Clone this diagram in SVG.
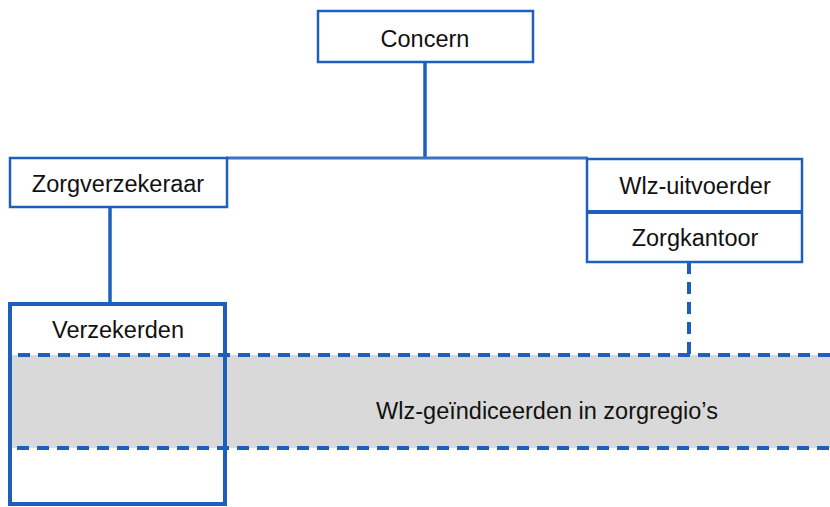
<svg xmlns="http://www.w3.org/2000/svg" width="830" height="507" viewBox="0 0 830 507">
<style>
.box{fill:#fff;stroke:#1c5fbd;stroke-width:2.5}
.t{font-family:"Liberation Sans",Arial,sans-serif;font-size:23.5px;fill:#111;text-anchor:middle}
.ln{stroke:#1c5fbd;stroke-width:3.5;fill:none}
.dash{stroke:#1c5fbd;stroke-width:4;fill:none;stroke-dasharray:12 8}
</style>
<rect width="830" height="507" fill="#fff"/>
<g id="band">
<rect x="10" y="355" width="830" height="93" fill="#d9d9d9"/>
<text class="t" x="547" y="419">Wlz-geïndiceerden in zorgregio’s</text>
</g>
<g id="connectors">
<line class="ln" x1="425" y1="62" x2="425" y2="158"/>
<line x1="226" y1="158" x2="588" y2="158" stroke="#3a72c4" stroke-width="3"/>
<line class="ln" x1="110" y1="207" x2="110" y2="302"/>
<line class="dash" x1="689" y1="262" x2="689" y2="355"/>
</g>
<g id="concern">
<rect class="box" x="318" y="11" width="215" height="51"/>
<text class="t" x="425" y="47">Concern</text>
</g>
<g id="zorgverzekeraar">
<rect class="box" x="10" y="158" width="217" height="49"/>
<text class="t" x="118" y="192">Zorgverzekeraar</text>
</g>
<g id="wlz-uitvoerder">
<rect class="box" x="587" y="159" width="215" height="103"/>
<line x1="587" y1="212" x2="802" y2="212" stroke="#1c5fbd" stroke-width="4"/>
<text class="t" x="695" y="194">Wlz-uitvoerder</text>
<text class="t" x="695" y="246">Zorgkantoor</text>
</g>
<g id="verzekerden">
<rect x="10" y="304" width="215" height="200" fill="none" stroke="#1c5fbd" stroke-width="4"/>
<text class="t" x="118" y="338">Verzekerden</text>
</g>
<g id="band-border">
<path class="dash" d="M830 355 H10 V448 H830"/>
</g>
</svg>
